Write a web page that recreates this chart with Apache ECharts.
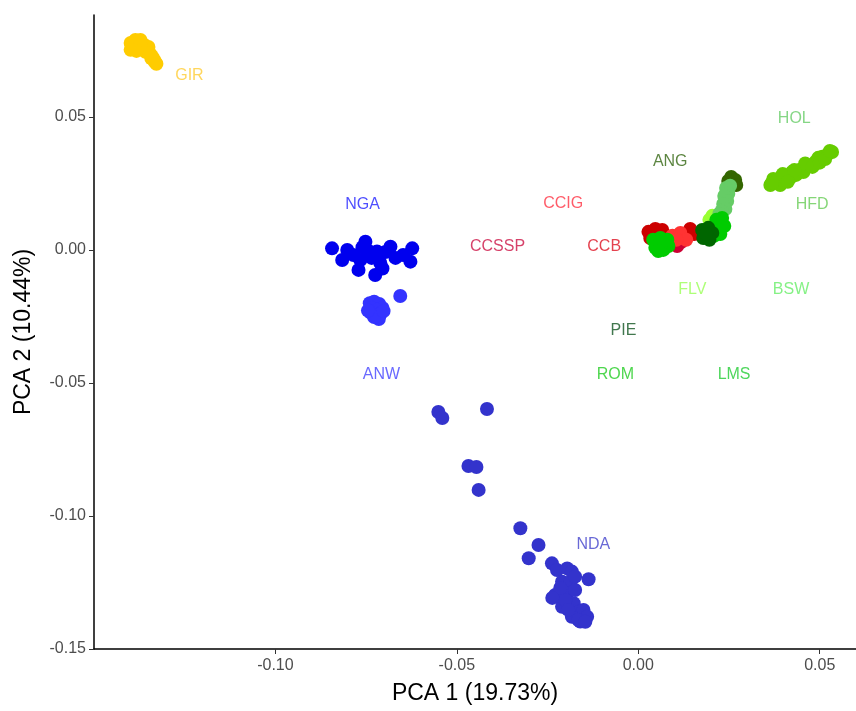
<!DOCTYPE html>
<html>
<head>
<meta charset="utf-8">
<script src="https://cdn.jsdelivr.net/npm/echarts@6/dist/echarts.min.js"></script>
<style>
  html, body { margin: 0; padding: 0; background: #fff; }
  #pcaChart { width: 856px; height: 711px; }
</style>
</head>
<body>
<div id="pcaChart"></div>
<script>
// PCA coordinates per breed [PC1, PC2]
const gir = [[-0.1399, 0.0778], [-0.1388, 0.0782], [-0.1375, 0.0778], [-0.1362, 0.0771], [-0.1350, 0.0763],
  [-0.1395, 0.0765], [-0.1380, 0.0760], [-0.1366, 0.0756], [-0.1352, 0.0748], [-0.1345, 0.0737],
  [-0.1340, 0.0727], [-0.1335, 0.0716], [-0.1332, 0.0706], [-0.1342, 0.0720], [-0.1358, 0.0745],
  [-0.1370, 0.0768], [-0.1386, 0.0789], [-0.1372, 0.0789], [-0.1399, 0.0752], [-0.1383, 0.0748],
  [-0.1328, 0.0700]];
const nga = [[-0.0844, 0.0006], [-0.0802, 0.0000], [-0.0752, 0.0031], [-0.0720, -0.0006], [-0.0683, 0.0012],
  [-0.0623, 0.0006], [-0.0816, -0.0038], [-0.0771, -0.0075], [-0.0766, -0.0038], [-0.0725, -0.0094],
  [-0.0711, -0.0049], [-0.0669, -0.0030], [-0.0628, -0.0044], [-0.0741, -0.0006], [-0.0785, -0.0019],
  [-0.0697, -0.0008], [-0.0648, -0.0019], [-0.0760, 0.0010], [-0.0735, -0.0030], [-0.0705, -0.0070]];
const anw = [[-0.0740, -0.0200], [-0.0728, -0.0195], [-0.0714, -0.0203], [-0.0705, -0.0218], [-0.0735, -0.0218],
  [-0.0720, -0.0225], [-0.0738, -0.0235], [-0.0722, -0.0245], [-0.0710, -0.0240], [-0.0715, -0.0260],
  [-0.0728, -0.0252], [-0.0745, -0.0228], [-0.0702, -0.0230], [-0.0656, -0.0173]];
const nda = [[-0.0551, -0.0609], [-0.0540, -0.0632], [-0.0417, -0.0598], [-0.0468, -0.0812], [-0.0446, -0.0816],
  [-0.0440, -0.0902], [-0.0325, -0.1046], [-0.0275, -0.1109], [-0.0302, -0.1159], [-0.0238, -0.1178],
  [-0.0137, -0.1238], [-0.0224, -0.1203], [-0.0196, -0.1197], [-0.0183, -0.1209], [-0.0210, -0.1247],
  [-0.0187, -0.1247], [-0.0229, -0.1297], [-0.0196, -0.1291], [-0.0210, -0.1341], [-0.0178, -0.1328],
  [-0.0164, -0.1360], [-0.0151, -0.1353], [-0.0160, -0.1397], [-0.0183, -0.1379], [-0.0141, -0.1379],
  [-0.0174, -0.1228], [-0.0201, -0.1316], [-0.0174, -0.1278], [-0.0215, -0.1271], [-0.0165, -0.1391],
  [-0.0146, -0.1398], [-0.0193, -0.1353], [-0.0237, -0.1308]];
const ccb = [[0.0028, 0.0068], [0.0047, 0.0079], [0.0066, 0.0075], [0.0143, 0.0079], [0.0154, 0.0060],
  [0.0132, 0.0053], [0.0033, 0.0045]];
const ccssp = [[0.0061, 0.0045], [0.0083, 0.0030], [0.0107, 0.0015], [0.0118, 0.0030]];
const ccig = [[0.0094, 0.0053], [0.0116, 0.0064], [0.0132, 0.0038], [0.0105, 0.0038]];
const ang = [[0.0256, 0.0274], [0.0267, 0.0263], [0.0270, 0.0244], [0.0248, 0.0259]];
const flv = [[0.0204, 0.0128], [0.0196, 0.0113]];
const bsw = [[0.0253, 0.0241], [0.0242, 0.0233], [0.0248, 0.0211], [0.0237, 0.0203], [0.0245, 0.0184],
  [0.0234, 0.0173], [0.0240, 0.0154], [0.0229, 0.0146], [0.0223, 0.0135]];
const lms = [[0.0215, 0.0113], [0.0231, 0.0120], [0.0237, 0.0090], [0.0215, 0.0083], [0.0226, 0.0060], [0.0209, 0.0053]];
const pie = [[0.0176, 0.0075], [0.0193, 0.0083], [0.0204, 0.0064], [0.0179, 0.0045], [0.0196, 0.0038], [0.0187, 0.0060]];
const rom = [[0.0041, 0.0038], [0.0061, 0.0045], [0.0080, 0.0038], [0.0047, 0.0008], [0.0069, 0.0000],
  [0.0083, 0.0015], [0.0061, 0.0019], [0.0055, -0.0004]];
const hol = [[0.0446, 0.0301], [0.0468, 0.0316], [0.0488, 0.0331], [0.0507, 0.0350], [0.0523, 0.0361],
  [0.0534, 0.0368], [0.0455, 0.0293], [0.0496, 0.0346], [0.0460, 0.0325], [0.0480, 0.0312],
  [0.0500, 0.0328], [0.0515, 0.0342], [0.0528, 0.0372]];
const hfd = [[0.0364, 0.0244], [0.0383, 0.0263], [0.0405, 0.0271], [0.0424, 0.0293], [0.0419, 0.0271],
  [0.0391, 0.0244], [0.0372, 0.0267], [0.0398, 0.0285], [0.0435, 0.0282], [0.0412, 0.0256],
  [0.0368, 0.0252], [0.0430, 0.0300]];

// breed label positions
const labelNames = ['GIR', 'NGA', 'ANW', 'NDA', 'CCSSP', 'CCIG', 'CCB', 'ANG', 'HOL', 'HFD', 'FLV', 'BSW', 'PIE', 'ROM', 'LMS'];
const labelX = [-0.1237, -0.0760, -0.0708, -0.0124, -0.0388, -0.0207, -0.0094, 0.0088, 0.0430, 0.0479, 0.0149, 0.0421, -0.0041, -0.0063, 0.0264];
const labelY = [0.0654, 0.0169, -0.0470, -0.1109, 0.0011, 0.0173, 0.0011, 0.0331, 0.0492, 0.0169, -0.0150, -0.0150, -0.0305, -0.0470, -0.0470];

const xTicks = [-0.10, -0.05, 0.00, 0.05];
const yTicks = [-0.15, -0.10, -0.05, 0.00, 0.05];

// drawing order follows the reference (later groups on top)
const groups = [
  { name: 'GIR', data: gir, color: '#FFCC00' },
  { name: 'NGA', data: nga, color: '#0000EE' },
  { name: 'ANW', data: anw, color: '#3333FF' },
  { name: 'NDA', data: nda, color: '#3333CC' },
  { name: 'CCB', data: ccb, color: '#CC0000' },
  { name: 'CCSSP', data: ccssp, color: '#CC0033' },
  { name: 'CCIG', data: ccig, color: '#FF3333' },
  { name: 'ANG', data: ang, color: '#336600' },
  { name: 'FLV', data: flv, color: '#99FF33' },
  { name: 'BSW', data: bsw, color: '#66CC66' },
  { name: 'LMS', data: lms, color: '#00CC00' },
  { name: 'PIE', data: pie, color: '#006600' },
  { name: 'ROM', data: rom, color: '#00CC00' },
  { name: 'HOL', data: hol, color: '#66CC00' },
  { name: 'HFD', data: hfd, color: '#66CC00' }
];

const labelColors = {
  GIR: '#FFCC33', NGA: '#2222FF', ANW: '#4444FF', NDA: '#4444CC', CCSSP: '#CC1144', CCIG: '#FF3344',
  CCB: '#DD1122', ANG: '#336611', HOL: '#66CC66', HFD: '#66CC55', FLV: '#99FF55', BSW: '#66EE66',
  PIE: '#115522', ROM: '#22CC22', LMS: '#22CC33'
};

const fontFamily = '"Liberation Sans", Arial, sans-serif';

const pcaDom = document.getElementById('pcaChart');
if (typeof echarts !== 'undefined' && pcaDom) {
  const pcaChart = echarts.init(pcaDom);

  const series = groups.map(g => ({
    name: g.name,
    type: 'scatter',
    data: g.data,
    symbolSize: 14,
    itemStyle: { color: g.color, opacity: 1 },
    silent: true
  }));

  series.push({
    name: 'labels',
    type: 'scatter',
    symbolSize: 0,
    silent: true,
    z: 5,
    data: labelNames.map((n, i) => ({
      name: n,
      value: [labelX[i], labelY[i]],
      label: { color: labelColors[n] }
    })),
    label: {
      show: true,
      position: 'inside',
      formatter: '{b}',
      fontSize: 16,
      fontFamily: fontFamily
    }
  });

  const pcaOption = {
    animation: false,
    backgroundColor: '#ffffff',
    grid: { left: 94, right: 0, top: 15, bottom: 62, containLabel: false },
    xAxis: {
      type: 'value',
      min: -0.15,
      max: 0.06,
      name: 'PCA 1 (19.73%)',
      nameLocation: 'middle',
      nameGap: 33,
      nameTextStyle: { color: '#000', fontSize: 23, fontFamily: fontFamily },
      axisLine: { show: true, onZero: false, lineStyle: { color: '#000', width: 1.5 } },
      axisTick: { show: true, length: 5, customValues: xTicks, lineStyle: { color: '#333', width: 1 } },
      axisLabel: {
        color: '#4D4D4D', fontSize: 16, fontFamily: fontFamily, margin: 9,
        customValues: xTicks, formatter: v => v.toFixed(2)
      },
      splitLine: { show: false }
    },
    yAxis: {
      type: 'value',
      min: -0.15,
      max: 0.0883,
      name: 'PCA 2 (10.44%)',
      nameLocation: 'middle',
      nameGap: 59,
      nameTextStyle: { color: '#000', fontSize: 23, fontFamily: fontFamily },
      axisLine: { show: true, onZero: false, lineStyle: { color: '#000', width: 1.5 } },
      axisTick: { show: true, length: 5, customValues: yTicks, lineStyle: { color: '#333', width: 1 } },
      axisLabel: {
        color: '#4D4D4D', fontSize: 16, fontFamily: fontFamily, margin: 8,
        customValues: yTicks, formatter: v => v.toFixed(2)
      },
      splitLine: { show: false }
    },
    series: series
  };
  pcaChart.setOption(pcaOption);
  window.addEventListener('resize', () => pcaChart.resize());
} else {
  console.error('ECharts library not loaded.');
}
</script>
</body>
</html>
